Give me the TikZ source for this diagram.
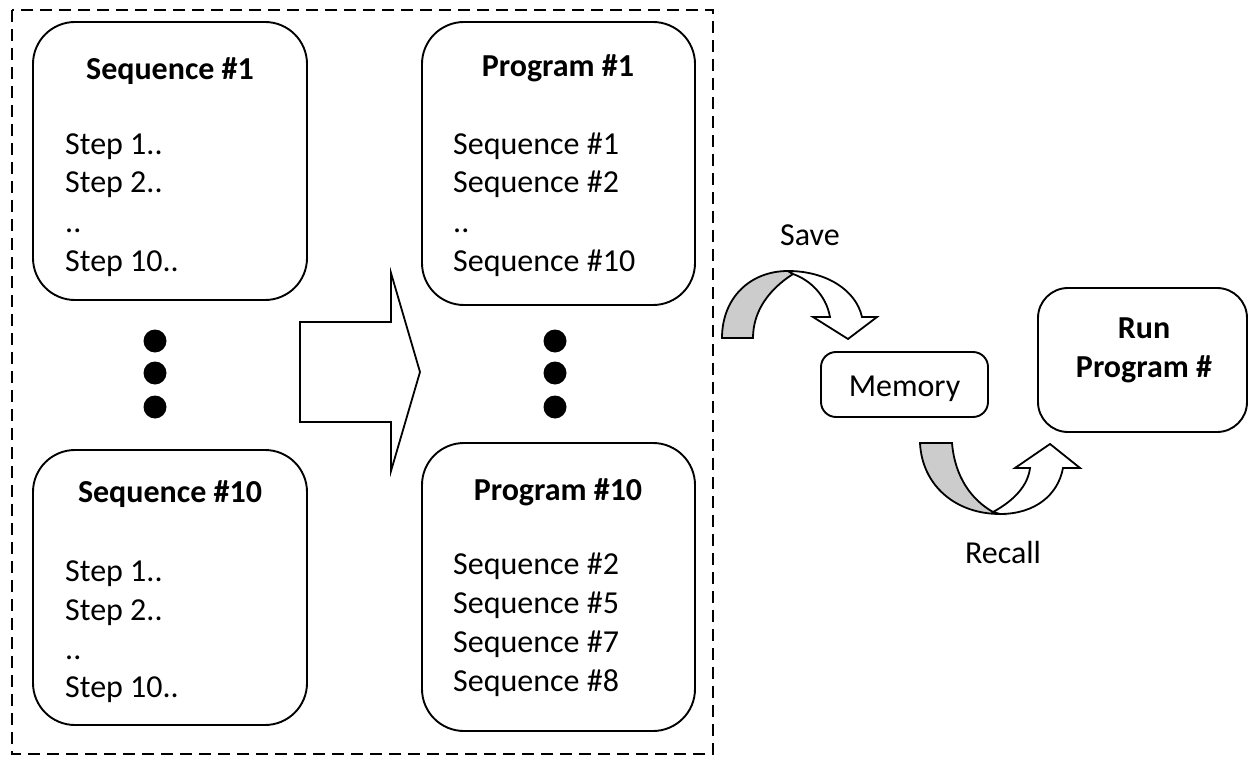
\documentclass[tikz,border=0pt]{standalone}
\usepackage{fontspec}
\setmainfont{Carlito}
\begin{document}
\begin{tikzpicture}[x=1pt,y=-1pt]
\tikzset{
  roundbox/.style={draw, line width=1.9pt, rounded corners=42pt, inner sep=0pt},
  ttl/.style={font=\fontsize{32}{38}\selectfont\bfseries, anchor=base, inner sep=0pt},
  txt/.style={font=\fontsize{32}{38}\selectfont, anchor=base west, inner sep=0pt},
  lbl/.style={font=\fontsize{32}{38}\selectfont, anchor=base, inner sep=0pt},
  dotnode/.style={circle, fill=black, minimum size=23pt, inner sep=0pt},
  blockline/.style={draw=black, line width=1.8pt, line join=miter},
  backfill/.style={blockline, fill=black!20},
  frontfill/.style={blockline, fill=white},
  frame/.style={draw, line width=2.8pt, dash pattern=on 12pt off 7pt}
}
\useasboundingbox (0,0) rectangle (1248,757);
% dashed frame
\draw[frame] (12,10) rectangle (713,754);

% Sequence #1
\node[roundbox, minimum width=274pt, minimum height=278pt] (seq1) at (170,161) {};
\node[ttl] (seq1t) at (170,80) {Sequence \#1};
\node[txt] (seq1a) at (65,154) {Step 1..};
\node[txt] (seq1b) at (65,193) {Step 2..};
\node[txt] (seq1c) at (65,232) {..};
\node[txt] (seq1d) at (65,271) {Step 10..};

% Sequence #10
\node[roundbox, minimum width=274pt, minimum height=275pt] (seq10) at (170,587.5) {};
\node[ttl] (seq10t) at (170,502) {Sequence \#10};
\node[txt] (seq10a) at (65,581) {Step 1..};
\node[txt] (seq10b) at (65,620) {Step 2..};
\node[txt] (seq10c) at (65,659) {..};
\node[txt] (seq10d) at (65,697) {Step 10..};

% Program #1
\node[roundbox, minimum width=273pt, minimum height=283pt] (prog1) at (558.5,163.5) {};
\node[ttl] (prog1t) at (558,77) {Program \#1};
\node[txt] (prog1a) at (453,154) {Sequence \#1};
\node[txt] (prog1b) at (453,193) {Sequence \#2};
\node[txt] (prog1c) at (453,232) {..};
\node[txt] (prog1d) at (453,271) {Sequence \#10};

% Program #10
\node[roundbox, minimum width=273pt, minimum height=288pt] (prog10) at (558.5,587) {};
\node[ttl] (prog10t) at (558,500) {Program \#10};
\node[txt] (prog10a) at (453,574) {Sequence \#2};
\node[txt] (prog10b) at (453,613) {Sequence \#5};
\node[txt] (prog10c) at (453,652) {Sequence \#7};
\node[txt] (prog10d) at (453,691) {Sequence \#8};

% vertical ellipsis dots
\node[dotnode] (ld1) at (155,341) {};
\node[dotnode] (ld2) at (155,373) {};
\node[dotnode] (ld3) at (155,407) {};
\node[dotnode] (rd1) at (555,341) {};
\node[dotnode] (rd2) at (555,373) {};
\node[dotnode] (rd3) at (555,407) {};

% big block arrow
\draw[frontfill] (300,322) -- (391,322) -- (391,273) -- (420,372) -- (391,471) -- (391,422) -- (300,422) -- cycle;

% Memory
\node[roundbox, rounded corners=15pt, minimum width=167pt, minimum height=65pt] (mem) at (904.5,384.5) {};
\node[lbl] (memt) at (904.5,396) {Memory};

% Run Program #
\node[roundbox, rounded corners=30pt, minimum width=209pt, minimum height=144pt] (run) at (1142.5,360) {};
\node[ttl] (runa) at (1144,338) {Run};
\node[ttl] (runb) at (1144,377) {Program \#};

% Save curved arrow
\draw[backfill] (722,338) .. controls (722,298) and (750,271) .. (788,271)
   -- (793,274) .. controls (768,290) and (753,312) .. (753,338) -- cycle;
\draw[frontfill] (788,271) .. controls (826,271) and (856,290) .. (862,317)
   -- (877,317) -- (848,339) -- (813,317) -- (830,317)
   .. controls (826,295) and (810,280) .. (793,274) -- cycle;
\node[lbl] (save) at (810,245) {Save};

% Recall curved arrow
\draw[backfill] (920,443) -- (952,443) .. controls (955,478) and (972,500) .. (993,512)
   -- (1000,514) .. controls (955,514) and (922,485) .. (920,443) -- cycle;
\draw[frontfill] (993,512) .. controls (1015,500) and (1028,485) .. (1030,468)
   -- (1015,468) -- (1050,444) -- (1080,468) -- (1063,468)
   .. controls (1058,495) and (1035,514) .. (1000,514) -- cycle;
\node[lbl] (recall) at (1003,563) {Recall};
\end{tikzpicture}
\end{document}
